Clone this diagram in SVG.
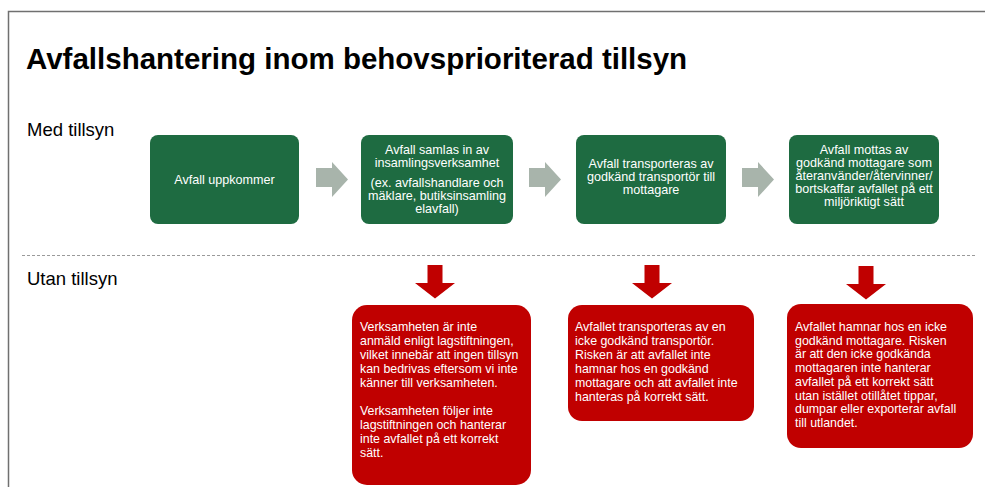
<svg xmlns="http://www.w3.org/2000/svg" width="985" height="487" viewBox="0 0 985 487">
<style>
  text { font-family: "Liberation Sans", Arial, sans-serif; }
  .title { font-size: 29.5px; font-weight: bold; fill: #000; }
  .lbl { font-size: 18.5px; fill: #000; }
  .green { fill: #1e6b41; }
  .red { fill: #c00000; }
  .gt { font-size: 12.6px; fill: #fff; text-anchor: middle; }
  .rt { font-size: 12.4px; fill: #fff; }
  .garrow { fill: #a8b4ab; }
  .rarrow { fill: #c00000; }
</style>
<rect x="0" y="0" width="985" height="487" fill="#fff"/>
<path d="M8.5,487 V11.5 H985" fill="none" stroke="#707070" stroke-width="1.5"/>
<text class="title" x="26" y="69">Avfallshantering inom behovsprioriterad tillsyn</text>
<text class="lbl" x="27" y="136">Med tillsyn</text>
<text class="lbl" x="27" y="285">Utan tillsyn</text>
<line x1="22" y1="255.5" x2="976" y2="255.5" stroke="#9a9a9a" stroke-width="1" stroke-dasharray="3,2"/>

<g id="connectors">
  <polygon class="garrow" points="316,168 332,168 332,162 348,179.5 332,197 332,187 316,187"/>
  <polygon class="garrow" points="529,168 545,168 545,162 561,179.5 545,197 545,187 529,187"/>
  <polygon class="garrow" points="742,168 758,168 758,162 774,179.5 758,197 758,187 742,187"/>
  <polygon class="rarrow" points="427.5,265 442.5,265 442.5,283 455,283 435,298.5 415,283 427.5,283"/>
  <polygon class="rarrow" points="644.5,265 659.5,265 659.5,283 672,283 652,298.5 632,283 644.5,283"/>
  <polygon class="rarrow" points="858.5,266 873.5,266 873.5,284 886,284 866,299.5 846,284 858.5,284"/>
</g>

<g id="n1">
  <rect class="green" x="150" y="135" width="149" height="89" rx="8"/>
  <text class="gt" x="224.5" y="184">Avfall uppkommer</text>
</g>
<g id="n2">
  <rect class="green" x="361" y="135" width="152" height="89" rx="8"/>
  <text class="gt" x="437" y="154">Avfall samlas in av</text>
  <text class="gt" x="437" y="167">insamlingsverksamhet</text>
  <text class="gt" x="437" y="187">(ex. avfallshandlare och</text>
  <text class="gt" x="437" y="200">mäklare, butiksinsamling</text>
  <text class="gt" x="437" y="213">elavfall)</text>
</g>
<g id="n3">
  <rect class="green" x="576" y="135" width="150" height="89" rx="8"/>
  <text class="gt" x="651" y="168">Avfall transporteras av</text>
  <text class="gt" x="651" y="181">godkänd transportör till</text>
  <text class="gt" x="651" y="194">mottagare</text>
</g>
<g id="n4">
  <rect class="green" x="789" y="135" width="150" height="89" rx="8"/>
  <text class="gt" x="864" y="154">Avfall mottas av</text>
  <text class="gt" x="864" y="167">godkänd mottagare som</text>
  <text class="gt" x="864" y="180">återanvänder/återvinner/</text>
  <text class="gt" x="864" y="193">bortskaffar avfallet på ett</text>
  <text class="gt" x="864" y="206">miljöriktigt sätt</text>
</g>

<g id="r1">
  <rect class="red" x="352" y="305" width="179" height="180" rx="15"/>
  <text class="rt" x="360" y="331">Verksamheten är inte</text>
  <text class="rt" x="360" y="345">anmäld enligt lagstiftningen,</text>
  <text class="rt" x="360" y="359">vilket innebär att ingen tillsyn</text>
  <text class="rt" x="360" y="373">kan bedrivas eftersom vi inte</text>
  <text class="rt" x="360" y="387">känner till verksamheten.</text>
  <text class="rt" x="360" y="415">Verksamheten följer inte</text>
  <text class="rt" x="360" y="429">lagstiftningen och hanterar</text>
  <text class="rt" x="360" y="443">inte avfallet på ett korrekt</text>
  <text class="rt" x="360" y="457">sätt.</text>
</g>
<g id="r2">
  <rect class="red" x="568" y="305" width="186" height="116" rx="14"/>
  <text class="rt" x="575" y="331">Avfallet transporteras av en</text>
  <text class="rt" x="575" y="345">icke godkänd transportör.</text>
  <text class="rt" x="575" y="359">Risken är att avfallet inte</text>
  <text class="rt" x="575" y="373">hamnar hos en godkänd</text>
  <text class="rt" x="575" y="387">mottagare och att avfallet inte</text>
  <text class="rt" x="575" y="401">hanteras på korrekt sätt.</text>
</g>
<g id="r3">
  <rect class="red" x="787" y="304" width="186" height="144" rx="14"/>
  <text class="rt" x="795" y="331">Avfallet hamnar hos en icke</text>
  <text class="rt" x="795" y="344.7">godkänd mottagare. Risken</text>
  <text class="rt" x="795" y="358.4">är att den icke godkända</text>
  <text class="rt" x="795" y="372.1">mottagaren inte hanterar</text>
  <text class="rt" x="795" y="385.8">avfallet på ett korrekt sätt</text>
  <text class="rt" x="795" y="399.5">utan istället otillåtet tippar,</text>
  <text class="rt" x="795" y="413.2">dumpar eller exporterar avfall</text>
  <text class="rt" x="795" y="427">till utlandet.</text>
</g>
</svg>
